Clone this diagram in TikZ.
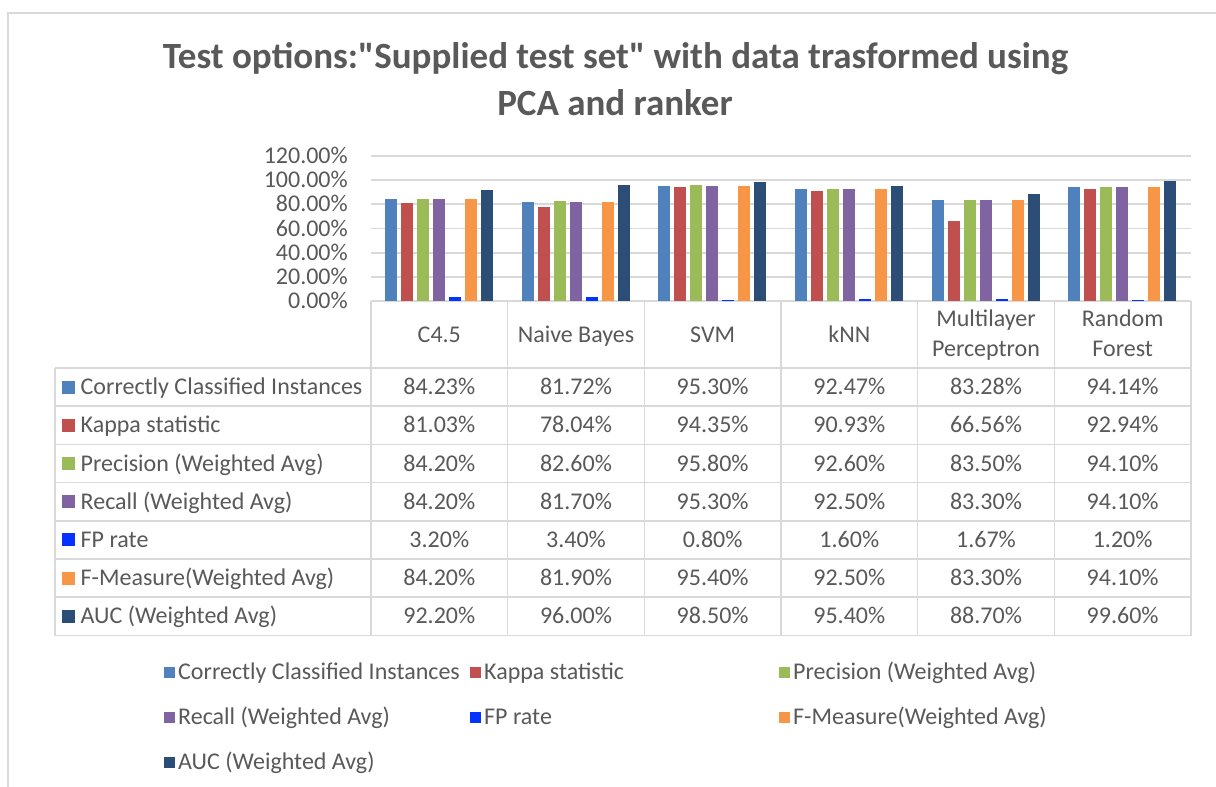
\documentclass[tikz,border=0pt]{standalone}
\usepackage{fontspec}
\setmainfont{Carlito}
\newfontfamily\titlefont{Carlito}
\definecolor{txt}{HTML}{595959}
\definecolor{gridc}{HTML}{D9D9D9}
\definecolor{frame}{HTML}{D9D9D9}
\definecolor{s1}{HTML}{4F81BD}
\definecolor{s2}{HTML}{C0504D}
\definecolor{s3}{HTML}{9BBB59}
\definecolor{s4}{HTML}{8064A2}
\definecolor{s5}{HTML}{0433FF}
\definecolor{s6}{HTML}{F79646}
\definecolor{s7}{HTML}{2C4D75}
\begin{document}
\begin{tikzpicture}[x=1pt,y=-1pt,
  lbl/.style={font=\fontsize{24}{28}\selectfont, text=txt, inner sep=0pt},
  ttl/.style={font=\titlefont\fontsize{37}{46}\selectfont\bfseries, text=txt, inner sep=0pt, anchor=base},
  gline/.style={draw=gridc, line width=1.8pt},
  tline/.style={draw=gridc, line width=1.6pt},
  key/.style={minimum width=13pt, minimum height=13pt, inner sep=0pt, draw=none}]
\useasboundingbox (0,0) rectangle (1216,787);
\fill[white] (0,0) rectangle (1216,787);
% outer frame
\draw[draw=frame, line width=2pt] (8,790) -- (8,12.5) -- (1220,12.5);
% title
\node[ttl] (title1) at (615.5,68.5) {Test options:"Supplied test set" with data trasformed using};
\node[ttl] (title2) at (615,115) {PCA and ranker};
% gridlines and axis labels
\foreach \k/\t in {0/0.00\%,1/20.00\%,2/40.00\%,3/60.00\%,4/80.00\%,5/100.00\%,6/120.00\%}{
  \pgfmathsetmacro{\yy}{301-\k*24.1667}
  \draw[gline] (371,\yy) -- (1191,\yy);
  \node[lbl, anchor=base east] (ax\k) at (348,\yy+7.5) {\t};
}
% bars
\foreach \c/\va/\vb/\vc/\vd/\ve/\vf/\vg in {
  0/84.23/81.03/84.20/84.20/3.20/84.20/92.20,
  1/81.72/78.04/82.60/81.70/3.40/81.90/96.00,
  2/95.30/94.35/95.80/95.30/0.80/95.40/98.50,
  3/92.47/90.93/92.60/92.50/1.60/92.50/95.40,
  4/83.28/66.56/83.50/83.30/1.67/83.30/88.70,
  5/94.14/92.94/94.10/94.10/1.20/94.10/99.60}{
  \pgfmathsetmacro{\xl}{371+\c*136.667+14}
  \foreach \j/\v in {1/\va,2/\vb,3/\vc,4/\vd,5/\ve,6/\vf,7/\vg}{
    \pgfmathsetmacro{\xa}{\xl+(\j-1)*16}
    \pgfmathsetmacro{\yt}{301-\v*1.20833}
    \fill[s\j] (\xa,301) rectangle (\xa+12,\yt);
  }
}
% table grid
\foreach \r in {0,...,7}{
  \pgfmathsetmacro{\yy}{368+\r*38.21}
  \draw[tline] (55,\yy) -- (1191,\yy);
}
\draw[tline] (55,368) -- (55,635.5);
\foreach \i in {0,...,6}{
  \pgfmathsetmacro{\xx}{371+\i*136.667}
  \draw[tline] (\xx,301) -- (\xx,635.5);
}
% header
\node[lbl, anchor=base] (h1) at (439.3,342.5) {C4.5};
\node[lbl, anchor=base] (h2) at (576,342.5) {Naive Bayes};
\node[lbl, anchor=base] (h3) at (712.7,342.5) {SVM};
\node[lbl, anchor=base] (h4) at (849.3,342.5) {kNN};
\node[lbl, anchor=base] (h5a) at (986,326.5) {Multilayer};
\node[lbl, anchor=base] (h5b) at (986,356.5) {Perceptron};
\node[lbl, anchor=base] (h6a) at (1122.7,326.5) {Random};
\node[lbl, anchor=base] (h6b) at (1122.7,356.5) {Forest};
% rows
\foreach \r/\name/\va/\vb/\vc/\vd/\ve/\vf in {
  1/Correctly Classified Instances/84.23/81.72/95.30/92.47/83.28/94.14,
  2/Kappa statistic/81.03/78.04/94.35/90.93/66.56/92.94,
  3/Precision (Weighted Avg)/84.20/82.60/95.80/92.60/83.50/94.10,
  4/Recall (Weighted Avg)/84.20/81.70/95.30/92.50/83.30/94.10,
  5/FP rate/3.20/3.40/0.80/1.60/1.67/1.20,
  6/F-Measure(Weighted Avg)/84.20/81.90/95.40/92.50/83.30/94.10,
  7/AUC (Weighted Avg)/92.20/96.00/98.50/95.40/88.70/99.60}{
  \pgfmathsetmacro{\yc}{368+(\r-0.5)*38.21}
  \node[key, fill=s\r] (k\r) at (68.5,\yc) {};
  \node[lbl, anchor=base west] (rl\r) at (80.5,\yc+7.5) {\name};
  \foreach \c/\v in {0/\va,1/\vb,2/\vc,3/\vd,4/\ve,5/\vf}{
    \pgfmathsetmacro{\xc}{371+(\c+0.5)*136.667}
    \node[lbl, anchor=base] (v\r-\c) at (\xc,\yc+7.5) {\v\%};
  }
}
% legend
\foreach \n/\x/\y/\name in {
  1/169/672/Correctly Classified Instances,
  2/475/672/Kappa statistic,
  3/784/672/Precision (Weighted Avg),
  4/169/717/Recall (Weighted Avg),
  5/475/717/FP rate,
  6/784/717/F-Measure(Weighted Avg),
  7/169/762/AUC (Weighted Avg)}{
  \node[key, fill=s\n, minimum width=11pt, minimum height=11pt] (lk\n) at (\x,\y) {};
  \node[lbl, anchor=base west] (lt\n) at (\x+9,\y+7.5) {\name};
}
\end{tikzpicture}
\end{document}
